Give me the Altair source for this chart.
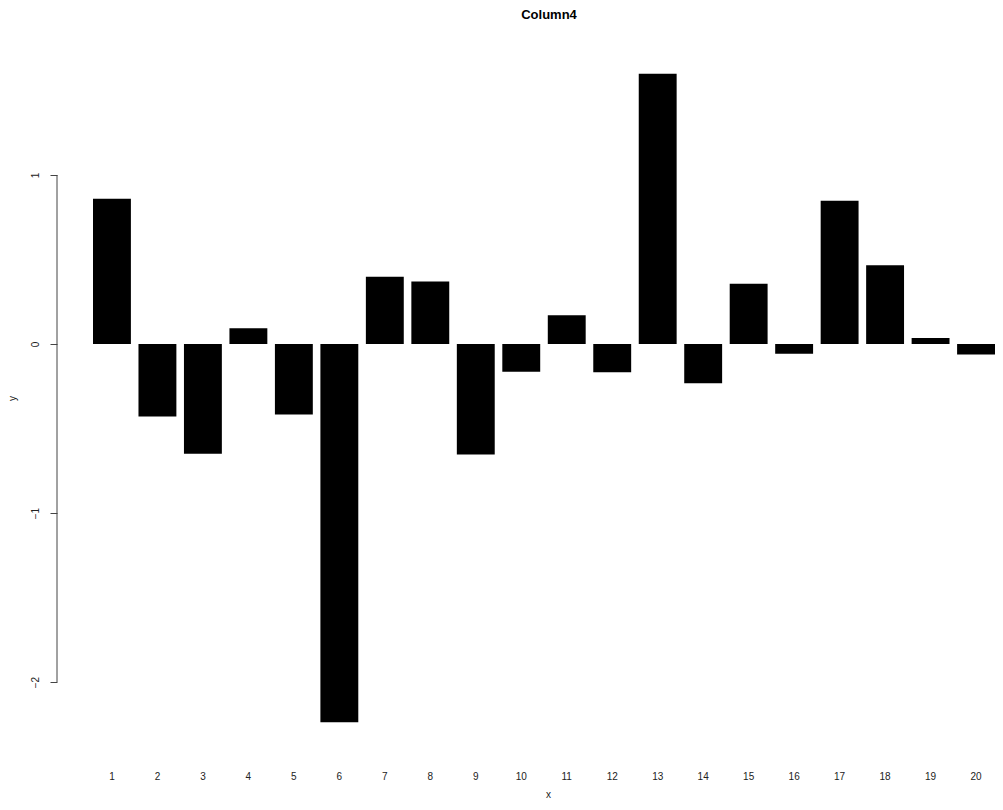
import altair as alt
import pandas as pd

categories = [str(i) for i in range(1, 21)]
values = [0.860, -0.428, -0.649, 0.093, -0.416, -2.237, 0.399, 0.371, -0.654, -0.163,
          0.170, -0.166, 1.600, -0.231, 0.357, -0.057, 0.848, 0.466, 0.036, -0.061]
y_ticks = [-2, -1, 0, 1]

df = pd.DataFrame({"x": categories, "y": values})
FONT = "Liberation Sans"

xscale = alt.Scale(paddingInner=1 / 6, paddingOuter=0.3958, align=1)
yscale = alt.Scale(domain=[-2.39, 1.752], nice=False, zero=False)

bars = alt.Chart(df).mark_bar(color="black").encode(
    x=alt.X(
        "x:O", sort=categories, scale=xscale,
        axis=alt.Axis(
            title="x", labelAngle=0, ticks=False, domain=False, labelPadding=23,
            labelFontSize=10, labelFont=FONT, labelColor="#222",
            titleX=491, titleY=46, titleBaseline="middle", titleAlign="center",
            titleFontWeight="normal", titleFontSize=10, titleFont=FONT, titleColor="#222",
        ),
    ),
    y=alt.Y(
        "y:Q", scale=yscale,
        axis=alt.Axis(
            title="y", values=y_ticks, format="d", domain=False, grid=False, tickSize=7,
            tickColor="#444", labelAngle=270, labelAlign="center", labelBaseline="bottom",
            labelPadding=10, labelFontSize=10, labelFont=FONT, labelColor="#222",
            titleX=-45, titleY=350, titleAngle=270, titleAlign="center",
            titleBaseline="middle", titleFontWeight="normal", titleFontSize=10,
            titleFont=FONT, titleColor="#222",
        ),
    ),
)

axis_line = alt.Chart(pd.DataFrame({"lo": [y_ticks[0]], "hi": [y_ticks[-1]]})).mark_rule(
    color="#444", strokeWidth=1
).encode(
    x=alt.value(0),
    y=alt.Y("lo:Q"),
    y2=alt.Y2("hi:Q"),
)

chart = alt.layer(bars, axis_line).properties(
    width=938,
    height=700,
    autosize=alt.AutoSizeParams(type="none"),
    padding={"left": 49, "top": 40, "right": 0, "bottom": 54},
    title=alt.TitleParams(
        "Column4", font=FONT, fontSize=13, fontWeight="bold", anchor="middle",
        dx=23, offset=26, color="black",
    ),
).configure_view(stroke=None)

chart.save("out.html", embed_options={"renderer": "svg", "actions": False})
